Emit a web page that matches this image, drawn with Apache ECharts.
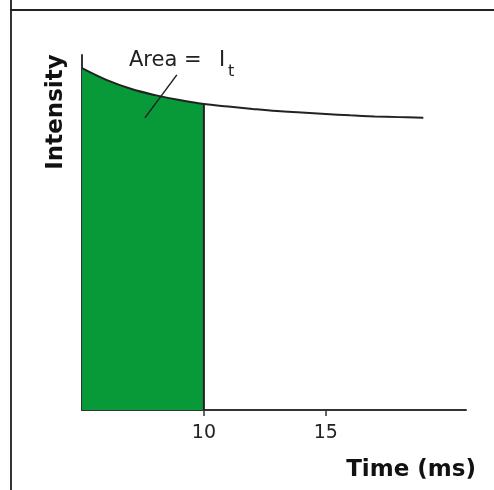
<!DOCTYPE html>
<html>
<head>
<meta charset="utf-8">
<script src="https://cdn.jsdelivr.net/npm/echarts@6/dist/echarts.min.js"></script>
<style>
html,body{margin:0;padding:0;background:#fff;}
#chart{width:494px;height:490px;}
</style>
</head>
<body>
<div id="chart"></div>
<script>
// Time (ms)
var times = [5, 6, 7, 8, 9, 10, 11, 12, 13, 14, 15, 16, 17, 18, 19];
// Intensity (relative units)
var intensity = [96.3, 93.0, 90.5, 88.7, 87.3, 86.2, 85.5, 84.8, 84.2, 83.8, 83.4, 83.0, 82.7, 82.5, 82.3];
// integration window end (ms)
var windowEnd = 10;
// tick labels shown on the time axis
var timeTicks = [10, 15];
// leader line of the "Area" annotation, [time, intensity]
var leaderLine = [[7.58, 82.3], [8.89, 94.4]];

var curve = times.map(function (t, i) { return [t, intensity[i]]; });
var areaPart = curve.filter(function (p) { return p[0] <= windowEnd; });
var endValue = intensity[times.indexOf(windowEnd)];

var chart = echarts.init(document.getElementById('chart'));
chart.setOption({
  animation: false,
  backgroundColor: '#fff',
  grid: { left: 82, right: 28, top: 55, bottom: 80 },
  xAxis: {
    type: 'value', min: 5, max: 20.75,
    axisLine: { show: true, onZero: false, lineStyle: { color: '#333', width: 2 } },
    axisTick: { show: true, customValues: timeTicks, length: 6, lineStyle: { color: '#333', width: 1.5 } },
    axisLabel: { show: true, customValues: timeTicks, color: '#222', fontSize: 19, fontFamily: 'DejaVu Sans', margin: 14 },
    splitLine: { show: false }
  },
  yAxis: {
    type: 'value', min: 0, max: 100,
    axisLine: { show: true, onZero: false, lineStyle: { color: '#333', width: 2 } },
    axisTick: { show: false },
    axisLabel: { show: false },
    splitLine: { show: false }
  },
  series: [
    {
      type: 'line', data: areaPart, smooth: 0.4, symbol: 'none',
      lineStyle: { width: 0 },
      areaStyle: { color: '#089a38', opacity: 1 },
      z: 1
    },
    {
      type: 'line', data: [[windowEnd, 0], [windowEnd, endValue]], symbol: 'none',
      lineStyle: { color: '#222', width: 2 }, z: 3
    },
    {
      type: 'line', data: curve, smooth: 0.4, symbol: 'none',
      lineStyle: { color: '#222', width: 2 }, z: 4
    },
    {
      type: 'line', data: leaderLine, symbol: 'none',
      lineStyle: { color: '#222', width: 1.5 }, z: 5
    }
  ],
  graphic: [
    { type: 'line', shape: { x1: 11, y1: 0, x2: 11, y2: 490 }, style: { stroke: '#333', lineWidth: 2 } },
    { type: 'line', shape: { x1: 10, y1: 10, x2: 494, y2: 10 }, style: { stroke: '#222', lineWidth: 2 } },
    { type: 'text', x: 129, y: 71, style: { text: 'Area =', fontSize: 21, fontFamily: 'DejaVu Sans', fill: '#222', textVerticalAlign: 'bottom' } },
    { type: 'text', x: 219, y: 71, style: { text: 'I', fontSize: 21, fontFamily: 'DejaVu Sans', fill: '#222', textVerticalAlign: 'bottom' } },
    { type: 'text', x: 228, y: 80, style: { text: 't', fontSize: 16, fontFamily: 'DejaVu Sans', fill: '#222', textVerticalAlign: 'bottom' } },
    { type: 'text', x: 56, y: 112, rotation: Math.PI / 2, style: { text: 'Intensity', fontSize: 23, fontWeight: 'bold', fontFamily: 'DejaVu Sans', fill: '#111', textAlign: 'center', textVerticalAlign: 'middle' } },
    { type: 'text', x: 476, y: 470, style: { text: 'Time (ms)', fontSize: 23, fontWeight: 'bold', fontFamily: 'DejaVu Sans', fill: '#111', textAlign: 'right', textVerticalAlign: 'middle' } }
  ]
});
</script>
</body>
</html>
